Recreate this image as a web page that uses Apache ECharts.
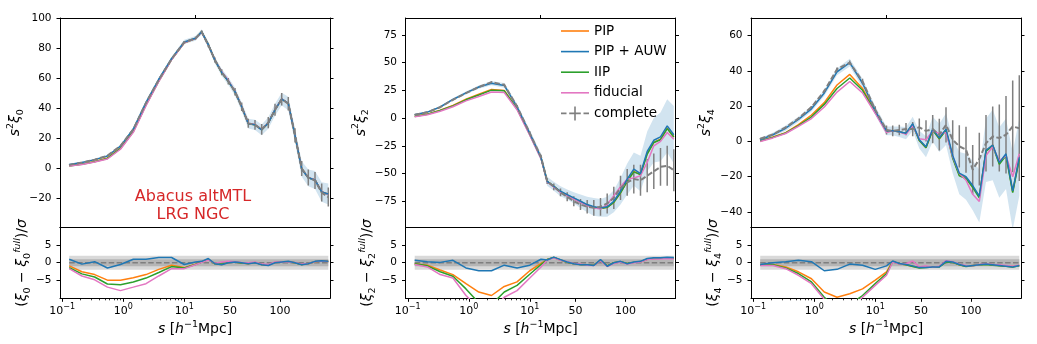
<!DOCTYPE html>
<html><head><meta charset="utf-8">
<script src="https://cdn.jsdelivr.net/npm/echarts@6/dist/echarts.min.js"></script>
<style>html,body{margin:0;padding:0;background:#fff}#c{width:1037px;height:344px}</style>
</head><body><div id="c"></div>
<script>
// ---------------- DATA ----------------
const S = [0.13, 0.21, 0.34, 0.55, 0.9, 1.46, 2.36, 3.82, 6.19, 10.0, 15.5, 21.7, 28.3, 35, 41.7, 48.3, 55, 61.7, 68.3, 75, 81.7, 88.3, 95, 101.7, 108.3, 115, 121.7, 128.3, 135, 141.7, 148.3];

// monopole s^2 xi_0
const XI0_COMP = [2.4, 4.0, 5.8, 8.5, 15, 26, 43.6, 59, 72.8, 84, 86.5, 90.7, 82, 72, 64, 58, 51, 41, 30, 29, 26, 30.5, 39, 46, 43, 22, 0, -6, -8, -16, -19];
const XI0_AUW  = [2.6, 4.0, 5.9, 8.3, 14.9, 26.2, 43.9, 59.3, 73, 84.1, 86.5, 90.8, 82.3, 71.8, 63.8, 58, 51.1, 41, 29.8, 29, 25.7, 30.2, 39, 46.1, 43.2, 22, -0.3, -6.2, -7.6, -15.6, -17];
const XI0_PIP  = [1.8, 3.0, 4.7, 7.0, 13.6, 24.8, 42.5, 58.3, 72.5, 83.6, 86.4, 90.8, 82.3, 71.8, 63.7, 58, 51.1, 41, 29.8, 29, 25.8, 30.3, 39, 46.1, 43.3, 22, -0.2, -6.2, -7.6, -15.5, -17];
const XI0_IIP  = [1.7, 2.9, 4.5, 6.7, 13.3, 24.5, 42.2, 58.1, 72.4, 83.5, 86.4, 90.8, 82.3, 71.8, 63.8, 58.1, 51.1, 41, 29.9, 29, 25.8, 30.3, 39.1, 46.2, 43.3, 22, -0.2, -6.1, -7.6, -15.5, -17.2];
const XI0_FID  = [1.6, 2.7, 4.3, 6.3, 12.8, 24.0, 41.8, 57.8, 72.3, 83.5, 86.3, 90.7, 82.2, 71.9, 64.3, 58.6, 51.3, 41.1, 30, 29.2, 25.9, 30.4, 39.2, 46.3, 43.2, 22.2, -0.2, -6.1, -7.5, -15.4, -17.3];
const XI0_COMP_ERR = [0.1, 0.1, 0.15, 0.2, 0.3, 0.4, 0.5, 0.6, 0.7, 0.8, 1, 1.2, 1.5, 1.8, 2, 2.2, 2.5, 2.8, 3, 3.3, 3.5, 3.8, 4, 4.2, 4.5, 4.8, 5, 5.3, 5.6, 6, 6.3];
const XI0_AUW_ERR  = [0.3, 0.3, 0.3, 0.4, 0.5, 0.6, 0.8, 1, 1.2, 1.4, 1.6, 1.8, 2, 2.2, 2.4, 2.6, 2.8, 3, 3.2, 3.4, 3.6, 3.8, 4, 4.2, 4.5, 4.8, 5.2, 5.6, 6, 6.5, 7];

// quadrupole s^2 xi_2
const XI2_COMP = [3.0, 5.2, 9.8, 16.5, 22.5, 28, 32.5, 30, 10.5, -13.5, -35, -57, -62, -67, -71, -75, -78, -80, -81, -80, -77, -72, -63, -58, -55, -56, -52, -48, -44, -43, -47];
const XI2_AUW  = [3.1, 5.4, 10, 16.8, 22.8, 28, 31.5, 29.5, 10.2, -13.8, -35.5, -57, -61.5, -66, -69, -72, -75, -78, -80, -81, -80, -75, -66, -55, -46, -50, -30, -20, -17, -7, -15];
const XI2_PIP  = [1.6, 3.6, 7.2, 11.5, 17, 21.5, 25.8, 25, 8.5, -14.5, -35.8, -57, -61.5, -66.5, -69.5, -72.5, -75.5, -78.5, -80.5, -81.5, -80.5, -76, -67.5, -57, -48, -51, -32, -22, -19, -9, -17];
const XI2_IIP  = [1.5, 3.4, 6.8, 11, 16.5, 20.8, 25.2, 24.6, 8.2, -14.8, -36, -57, -61.5, -66.5, -69.5, -72.5, -75.5, -78.5, -80.5, -81.5, -80.5, -76, -67.5, -57, -48.5, -51, -32.5, -22, -19.5, -9.5, -17];
const XI2_FID  = [1.2, 3.0, 6.2, 10.2, 15.5, 19.5, 23.6, 23, 7.5, -15.5, -36.5, -57.5, -62, -67, -70, -73, -76, -79, -81, -82, -78, -70, -62, -55, -54, -52, -40, -25, -21, -13, -19];
const XI2_COMP_ERR = [0.2, 0.2, 0.3, 0.4, 0.5, 0.6, 0.8, 1, 1.3, 1.6, 2, 2.5, 3, 3.5, 4, 4.5, 5, 6, 7, 8, 9, 10, 11, 12, 13, 14, 15, 16, 17, 18, 19];
const XI2_AUW_ERR  = [0.5, 0.6, 0.8, 1, 1.2, 1.5, 1.8, 2.2, 2.6, 3, 3.5, 4, 4, 4.5, 4.5, 5, 6, 7, 8, 8, 9, 10, 12, 14, 15, 16, 18, 20, 22, 24, 26];

// hexadecapole s^2 xi_4
const XI4_COMP = [1.5, 4, 8, 13, 19.5, 28.5, 41, 44.7, 34, 18, 6.5, 6, 6.5, 7, 7, 8, 6, 7, 3.8, 9.4, 1, -2.8, -4.7, -16, -10, -1, 2.8, 1.9, 3.8, 8.5, 7.5];
const XI4_AUW  = [1, 3.8, 7.5, 12.5, 18.5, 27.5, 39.5, 44.7, 33, 17.5, 6, 6, 5.5, 4.7, 10, 1, -3, 7, 2, 7, -8, -18, -20, -25, -31, -5, -2, -12, -7, -28, -9];
const XI4_PIP  = [0.3, 2.5, 5, 9.5, 15, 22, 32, 38, 30, 17, 5.5, 6, 5.5, 4.5, 9.5, 0.5, -3.5, 6.5, 1.5, 6.5, -9, -19, -20.5, -26, -31, -5.5, -2, -12.5, -7.5, -28.5, -9.5];
const XI4_IIP  = [0.3, 2.3, 4.8, 9, 14, 21, 30, 36, 29, 16.5, 5.5, 6, 5.5, 4.5, 9.5, 0.5, -3.5, 6.5, 1.5, 6.5, -9.5, -19.5, -21, -26, -32, -5.5, -2.5, -13, -8, -29, -10];
const XI4_FID  = [0, 2, 4.5, 8.5, 13, 19.5, 28, 34, 27.5, 16, 5, 6, 5.5, 4, 9, 1.5, 1, 6, 4.5, 5, -8.5, -18, -22, -30, -34, -8, -3, -11, -8, -20, -7];
const XI4_COMP_ERR = [0.3, 0.3, 0.4, 0.5, 0.6, 0.8, 1, 1.2, 1.5, 2, 2.5, 3, 3, 3.5, 4, 5, 6, 8, 9, 10, 11, 12, 13, 14, 15, 16, 17, 19, 22, 26, 30];
const XI4_AUW_ERR  = [1, 1.2, 1.5, 1.5, 1.5, 1.8, 2, 2.2, 2.5, 2.5, 2.5, 2.5, 3, 3.5, 4, 5, 6, 7, 8, 9, 10, 12, 13, 14, 15, 18, 20, 20, 20, 22, 22];

// residuals (xi - xi_full)/sigma
const RES0_AUW = [1.0, -0.4, 0.3, -1.5, -0.5, 1.0, 1.0, 1.5, 1.5, -0.5, 0.2, 0.4, 1.2, -0.3, -0.6, 0, 0.2, 0, -0.3, 0, -0.6, -0.8, 0, 0.2, 0.4, 0, -0.6, -0.3, 0.4, 0.6, 0.4];
const RES0_PIP = [-0.9, -2.6, -3.4, -5.0, -5.0, -4.3, -3.4, -1.9, -0.7, -1.4, -0.4, 0.3, 1.0, -0.3, -0.5, 0.1, 0.2, -0.1, -0.3, 0.1, -0.5, -0.7, 0.1, 0.2, 0.3, 0, -0.5, -0.3, 0.3, 0.5, 0.4];
const RES0_IIP = [-1.4, -3.2, -4.1, -6.1, -6.3, -5.5, -4.4, -2.8, -1.1, -1.5, -0.5, 0.2, 0.9, -0.3, -0.4, 0.1, 0.2, -0.1, -0.2, 0.1, -0.5, -0.6, 0.1, 0.3, 0.3, 0, -0.5, -0.2, 0.3, 0.5, 0.3];
const RES0_FID = [-1.7, -3.8, -4.9, -7.0, -8.0, -7.0, -6.0, -3.8, -1.7, -1.7, -0.6, 0.1, 0.8, -0.2, 0.2, 0.4, 0.3, 0.1, 0, 0.2, -0.4, -0.5, 0.2, 0.3, 0.2, 0.1, -0.4, -0.2, 0.3, 0.5, 0.3];

const RES2_AUW = [0.7, 0.3, 0.1, 0.7, -1.5, -2.3, -2.3, -0.7, -1.5, -0.7, 1.0, 0.8, 1.6, 0.9, 0.2, -0.3, -0.6, -0.6, -0.8, 0.9, -1.0, 0, 0.4, -0.3, 0.2, 0.4, 1.2, 1.4, 1.4, 1.6, 1.5];
const RES2_PIP = [-0.3, -0.7, -2.1, -3.4, -6.0, -8.4, -9.4, -6.8, -5.5, -2.3, -0.2, 0.9, 1.5, 0.8, 0.1, -0.3, -0.5, -0.6, -0.7, 0.7, -0.9, 0, 0.3, -0.2, 0.1, 0.3, 1.0, 1.2, 1.3, 1.4, 1.3];
const RES2_IIP = [-0.3, -0.9, -2.6, -3.9, -7.5, -11.5, -12, -8.4, -6.5, -3.3, -0.5, 0.9, 1.5, 0.8, 0.1, -0.3, -0.5, -0.6, -0.7, 0.7, -0.9, 0, 0.3, -0.2, 0.1, 0.3, 1.0, 1.2, 1.3, 1.4, 1.3];
const RES2_FID = [-0.5, -1.2, -3.4, -4.4, -9.4, -13, -14, -9.9, -8, -4.4, -1.2, 0.8, 1.4, 0.7, 0.3, -0.2, -0.4, -0.7, -0.8, 0.6, -1.1, -0.2, 0.2, -0.4, 0, 0.2, 0.9, 1.1, 1.1, 1.2, 1.1];

const RES4_AUW = [-0.5, 0, 0.3, 0.7, 0.3, -2.3, -1.9, -0.4, -0.7, -1.9, -0.9, 0.5, -0.2, -0.5, -0.9, -1.4, -1.4, -1.2, -1.2, 0.4, 0.2, -0.5, -1.0, -0.8, -0.6, -0.4, -0.6, -0.8, -1.0, -1.2, -0.8];
const RES4_PIP = [-0.7, -0.5, -1.2, -2.6, -4.6, -8.4, -9.9, -8.9, -7.5, -5.0, -2.6, 0.4, -0.3, -0.6, -1.0, -1.4, -1.3, -1.2, -1.1, 0.3, 0.1, -0.6, -1.0, -0.8, -0.6, -0.4, -0.6, -0.8, -1.0, -1.1, -0.8];
const RES4_IIP = [-0.7, -0.6, -1.5, -3.1, -5.5, -9.9, -13, -12, -9.4, -6.0, -3.1, 0.3, -0.3, -0.6, -1.1, -1.5, -1.4, -1.2, -1.2, 0.2, 0.1, -0.6, -1.1, -0.9, -0.6, -0.5, -0.7, -0.9, -1.0, -1.2, -0.9];
const RES4_FID = [-0.8, -0.8, -1.7, -3.6, -6.0, -10.5, -14, -13, -9.9, -6.5, -3.6, 0.2, -0.4, -0.3, 0.5, -1.2, -0.9, -1.3, -1.0, 0.6, 0.3, -0.4, -0.8, -0.9, -0.5, -0.3, -0.5, -0.6, -0.8, -1.0, -0.7];
const RES_COMP = [0, 0, 0, 0, 0, 0, 0, 0, 0, 0, 0, 0, 0, 0, 0, 0, 0, 0, 0, 0, 0, 0, 0, 0, 0, 0, 0, 0, 0, 0, 0];
const SIGMA_LEVELS = [2, 1];

// tick labels
const X_TICKS = [0.1, 1, 10, 50, 100];
const X_TICK_LABELS = ['10{sup|−1}', '10{sup|0}', '10{sup|1}', '50', '100'];
const X_MINOR = [0.2, 0.3, 0.4, 0.5, 0.6, 0.7, 0.8, 0.9, 2, 3, 4, 5, 6, 7, 8, 9];
const Y_TICKS_TOP = [[-20, 0, 20, 40, 60, 80, 100], [-75, -50, -25, 0, 25, 50, 75], [-40, -20, 0, 20, 40, 60]];
const Y_TICKS_BOT = [-5, 0, 5];
const LEGEND_NAMES = ['PIP', 'PIP + AUW', 'IIP', 'fiducial', 'complete'];

// ---------------- LAYOUT / STYLE ----------------
const FONT = 'DejaVu Sans';
const C = { pip: '#ff7f0e', auw: '#1f77b4', iip: '#2ca02c', fid: '#e377c2', comp: '#7f7f7f' };
const X_BREAK = 15;          // log scale below, linear above (split axis)
const DEC_PX = 61;           // px per decade in the log half; 1 px per unit in linear half
const HALF_W = 135;
function X(s) { return s <= X_BREAK ? Math.log10(s) : Math.log10(X_BREAK) + (s - X_BREAK) / DEC_PX; }
const XMIN = Math.log10(X_BREAK) - HALF_W / DEC_PX;
const XMAX = Math.log10(X_BREAK) + HALF_W / DEC_PX;
const GRID_W = 270, TOP_Y = 18, TOP_H = 209.5, BOT_Y = 227.5, BOT_H = 70.8;

const PANELS = [
  { left: 60, ymin: -39.2, ymax: 100, yt: Y_TICKS_TOP[0], l: '0',
    comp: XI0_COMP, auw: XI0_AUW, pip: XI0_PIP, iip: XI0_IIP, fid: XI0_FID, compErr: XI0_COMP_ERR, auwErr: XI0_AUW_ERR,
    r: { auw: RES0_AUW, pip: RES0_PIP, iip: RES0_IIP, fid: RES0_FID } },
  { left: 405.5, ymin: -98.7, ymax: 90.3, yt: Y_TICKS_TOP[1], l: '2',
    comp: XI2_COMP, auw: XI2_AUW, pip: XI2_PIP, iip: XI2_IIP, fid: XI2_FID, compErr: XI2_COMP_ERR, auwErr: XI2_AUW_ERR,
    r: { auw: RES2_AUW, pip: RES2_PIP, iip: RES2_IIP, fid: RES2_FID } },
  { left: 751, ymin: -48.8, ymax: 70, yt: Y_TICKS_TOP[2], l: '4',
    comp: XI4_COMP, auw: XI4_AUW, pip: XI4_PIP, iip: XI4_IIP, fid: XI4_FID, compErr: XI4_COMP_ERR, auwErr: XI4_AUW_ERR,
    r: { auw: RES4_AUW, pip: RES4_PIP, iip: RES4_IIP, fid: RES4_FID } }
];

const AX_LINE = { show: true, onZero: false, lineStyle: { color: '#000', width: 1 } };
const fmtNum = v => (v < 0 ? '−' + Math.abs(v) : String(v));
const RICH = {
  i: { fontStyle: 'italic', fontSize: 14, fontFamily: FONT, color: '#000' },
  sup: { fontSize: 9.5, lineHeight: 10, verticalAlign: 'top', fontFamily: FONT, color: '#000' },
  supi: { fontSize: 9.5, lineHeight: 10, verticalAlign: 'top', fontStyle: 'italic', fontFamily: FONT, color: '#000' },
  sub: { fontSize: 9.5, lineHeight: 10, verticalAlign: 'bottom', fontFamily: FONT, color: '#000' }
};
const NAME_STYLE = { fontSize: 14, fontFamily: FONT, color: '#000', lineHeight: 20, rich: RICH };

function xMain(g, labels) {
  return {
    type: 'value', gridIndex: g, position: 'bottom', min: XMIN, max: XMAX,
    axisLine: AX_LINE, splitLine: { show: false },
    axisTick: { show: labels, length: 3.5, lineStyle: { color: '#000' }, customValues: X_TICKS.map(X) },
    axisLabel: {
      show: labels, customValues: X_TICKS.map(X), margin: 5, fontSize: 11, fontFamily: FONT, color: '#000',
      formatter: v => { const i = X_TICKS.findIndex(t => Math.abs(X(t) - v) < 1e-6); return i < 0 ? '' : X_TICK_LABELS[i]; },
      rich: { sup: { fontSize: 8, lineHeight: 8, verticalAlign: 'top', fontFamily: FONT, color: '#000' } },
      lineHeight: 15
    },
    name: labels ? '{i|s} [{i|h}{sup|−1}Mpc]' : '', nameLocation: 'middle', nameGap: 20, nameTextStyle: NAME_STYLE
  };
}
function xMinor(g) {
  return {
    type: 'value', gridIndex: g, position: 'bottom', min: XMIN, max: XMAX,
    axisLine: { show: false, onZero: false }, splitLine: { show: false }, axisLabel: { show: false },
    axisTick: { show: true, length: 2, lineStyle: { color: '#000', width: 0.8 }, customValues: X_MINOR.map(X) }
  };
}
function xTop(g, tick) {
  return {
    type: 'value', gridIndex: g, position: 'top', min: XMIN, max: XMAX,
    axisLine: AX_LINE, splitLine: { show: false }, axisLabel: { show: false },
    axisTick: { show: tick, length: 3, lineStyle: { color: '#000' }, customValues: [X(X_BREAK)] }
  };
}
function yLeft(g, min, max, ticks, name, gap) {
  return {
    type: 'value', gridIndex: g, position: 'left', min, max,
    axisLine: AX_LINE, splitLine: { show: false },
    axisTick: { show: true, length: 3.5, lineStyle: { color: '#000' }, customValues: ticks },
    axisLabel: { show: true, customValues: ticks, margin: 8.5, fontSize: 10.5, fontFamily: FONT, color: '#000', formatter: fmtNum },
    name, nameLocation: 'middle', nameRotate: 90, nameGap: gap, nameTextStyle: NAME_STYLE
  };
}
function yRight(g, min, max, ticks) {
  return {
    type: 'value', gridIndex: g, position: 'right', min, max,
    axisLine: AX_LINE, splitLine: { show: false }, axisLabel: { show: false },
    axisTick: { show: true, length: 3.5, lineStyle: { color: '#000' }, customValues: ticks }
  };
}
function clipOf(params) {
  const c = params.coordSys;
  return { type: 'rect', shape: { x: c.x, y: c.y, width: c.width, height: c.height } };
}
function line(name, arr, color, xi, yi, extra) {
  return Object.assign({
    type: 'line', name, xAxisIndex: xi, yAxisIndex: yi, symbol: 'none', animation: false,
    data: S.map((s, i) => [X(s), arr[i]]),
    lineStyle: { color, width: 1.5 }, itemStyle: { color }, clip: true
  }, extra || {});
}

const grids = [], xAxes = [], yAxes = [], series = [];
PANELS.forEach(P => {
  const gT = grids.length; grids.push({ left: P.left, top: TOP_Y, width: GRID_W, height: TOP_H });
  const gB = grids.length; grids.push({ left: P.left, top: BOT_Y, width: GRID_W, height: BOT_H });
  const xT = xAxes.length; xAxes.push(xMain(gT, false)); xAxes.push(xTop(gT, true));
  const yT = yAxes.length;
  yAxes.push(yLeft(gT, P.ymin, P.ymax, P.yt, '{i|s}{sup|2}{i|ξ}{sub|' + P.l + '}', 33));
  yAxes.push(yRight(gT, P.ymin, P.ymax, P.yt));
  const xB = xAxes.length; xAxes.push(xMain(gB, true)); xAxes.push(xMinor(gB)); xAxes.push(xTop(gB, false));
  const yB = yAxes.length;
  yAxes.push(yLeft(gB, -10.2, 10.1, Y_TICKS_BOT, '({i|ξ}{sub|' + P.l + '} − {i|ξ}{sub|' + P.l + '}{supi|full})/{i|σ}', 24));
  yAxes.push(yRight(gB, -10.2, 10.1, Y_TICKS_BOT));

  // blue 1-sigma band for PIP + AUW
  series.push({
    type: 'custom', name: 'auw-band', xAxisIndex: xT, yAxisIndex: yT, animation: false, silent: true,
    data: [[X(S[0]), P.auw[0]]],
    renderItem: (params, api) => {
      const up = S.map((s, i) => api.coord([X(s), P.auw[i] + P.auwErr[i]]));
      const lo = S.map((s, i) => api.coord([X(s), P.auw[i] - P.auwErr[i]])).reverse();
      return { type: 'polygon', shape: { points: up.concat(lo) }, style: { fill: 'rgba(31,119,180,0.2)' }, clipPath: clipOf(params) };
    }
  });
  series.push(line('PIP', P.pip, C.pip, xT, yT));
  series.push(line('IIP', P.iip, C.iip, xT, yT));
  series.push(line('fiducial', P.fid, C.fid, xT, yT));
  series.push(line('PIP + AUW', P.auw, C.auw, xT, yT));
  series.push(line('complete', P.comp, C.comp, xT, yT, { lineStyle: { color: C.comp, width: 2, type: [5.5, 2.4] } }));
  series.push({
    type: 'custom', name: 'complete-err', xAxisIndex: xT, yAxisIndex: yT, animation: false, silent: true,
    data: S.map((s, i) => [X(s), P.comp[i] - P.compErr[i], P.comp[i] + P.compErr[i]]),
    encode: { x: 0, y: [1, 2] },
    renderItem: (params, api) => {
      const a = api.coord([api.value(0), api.value(1)]);
      const b = api.coord([api.value(0), api.value(2)]);
      return { type: 'line', shape: { x1: a[0], y1: a[1], x2: b[0], y2: b[1] }, style: { stroke: C.comp, lineWidth: 1.5 }, clipPath: clipOf(params) };
    }
  });

  // residual panel: ±2σ and ±1σ grey bands
  SIGMA_LEVELS.forEach((k, j) => {
    series.push({
      type: 'custom', name: 'sigma-band', xAxisIndex: xB, yAxisIndex: yB, animation: false, silent: true,
      data: [[X(S[0]), -k, X(S[S.length - 1]), k]],
      renderItem: (params, api) => {
        const a = api.coord([api.value(0), api.value(3)]);
        const b = api.coord([api.value(2), api.value(1)]);
        return { type: 'rect', shape: { x: a[0], y: a[1], width: b[0] - a[0], height: b[1] - a[1] },
          style: { fill: j === 0 ? '#d9d9d9' : '#b5b5b5' } };
      }
    });
  });
  series.push(line('complete', RES_COMP, C.comp, xB, yB, { lineStyle: { color: C.comp, width: 1.5, type: [5.5, 2.4] } }));
  series.push(line('PIP', P.r.pip, C.pip, xB, yB));
  series.push(line('IIP', P.r.iip, C.iip, xB, yB));
  series.push(line('fiducial', P.r.fid, C.fid, xB, yB));
  series.push(line('PIP + AUW', P.r.auw, C.auw, xB, yB));
});

const LINE_ICON = 'path://M0 0H28V1.6H0Z';
const COMP_ICON = 'path://M0 6.2H5.5V7.8H0Z M8.2 6.2H13.2V7.8H8.2Z M14.8 6.2H19.8V7.8H14.8Z M22.5 6.2H28V7.8H22.5Z M13.2 0H14.8V14H13.2Z';

const option = {
  animation: false,
  backgroundColor: '#fff',
  grid: grids, xAxis: xAxes, yAxis: yAxes, series,
  legend: {
    orient: 'vertical', left: 556, top: 19, itemWidth: 28, itemHeight: 14, itemGap: 6.6, selectedMode: false,
    textStyle: { fontSize: 13.5, fontFamily: FONT, color: '#000' },
    data: LEGEND_NAMES.map(n => ({ name: n, icon: n === 'complete' ? COMP_ICON : LINE_ICON }))
  },
  graphic: [{
    type: 'text', x: 193, y: 206, silent: true,
    style: { text: 'Abacus altMTL\nLRG NGC', fill: '#d62728', fontSize: 16, fontFamily: FONT, lineHeight: 18,
      textAlign: 'center', textVerticalAlign: 'middle' }
  }]
};
const chart = echarts.init(document.getElementById('c'), null, { renderer: 'canvas' });
chart.setOption(option);
</script></body></html>
